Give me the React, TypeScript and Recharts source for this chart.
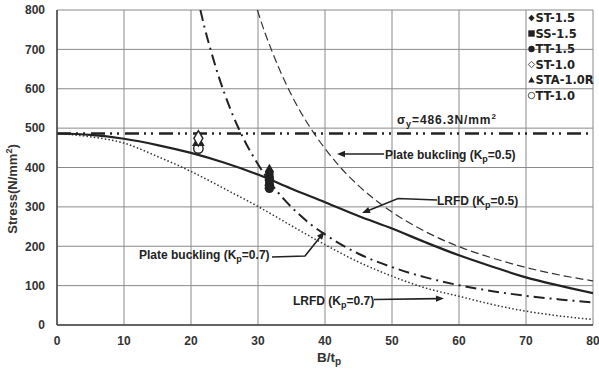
import React from 'react';
import { ComposedChart, Line, Scatter, XAxis, YAxis, ZAxis, CartesianGrid, Customized } from 'recharts';

const xTicks = [0, 10, 20, 30, 40, 50, 60, 70, 80];
const yTicks = [0, 100, 200, 300, 400, 500, 600, 700, 800];

// LRFD curves (solid: Kp=0.5, dotted: Kp=0.7)
const lrfdX = [0, 5, 10, 15, 20, 25, 30, 35, 40, 45, 50, 55, 60, 65, 70, 75, 80];
const lrfd05 = [486.3, 483, 473, 457, 437, 412, 382, 346, 312, 277, 245, 210, 177, 148, 121, 100, 81];
const lrfd07 = [486.3, 478, 462, 428, 390, 346, 301, 252, 204, 160, 124, 94, 73, 52, 35, 23, 14];

// Plate buckling curves
const pb07X = [21.4, 22, 23, 24, 25, 26, 28, 30, 32, 34, 36, 38, 40, 45, 50, 55, 60, 65, 70, 75, 80];
const pb07 = [800, 757, 695, 638, 588, 543, 468, 408, 358, 317, 283, 254, 230, 181, 147, 121, 101, 86, 74, 65, 57];
const pb05X = [29.9, 31, 32, 34, 36, 38, 40, 42, 45, 50, 55, 60, 65, 70, 75, 80];
const pb05 = [800, 744, 699, 619, 552, 496, 448, 406, 354, 287, 237, 199, 170, 146, 127, 112];

// Yield stress
const yieldX = [0, 80];
const yieldStress = 486.3;

// Test results
const st15 = [{ x: 31.7, y: 390 }, { x: 31.7, y: 376 }];
const ss15 = [{ x: 31.7, y: 381 }, { x: 31.7, y: 362 }];
const tt15 = [{ x: 31.7, y: 368 }, { x: 31.7, y: 355 }, { x: 31.7, y: 347 }];
const st10 = [{ x: 21.1, y: 474 }];
const sta10r = [{ x: 21.1, y: 464 }];
const tt10 = [{ x: 21.1, y: 448 }];

const legendLabels = ['ST-1.5', 'SS-1.5', 'TT-1.5', 'ST-1.0', 'STA-1.0R', 'TT-1.0'];

const zip = (xs: number[], ys: number[]) => xs.map((x, i) => ({ x, y: ys[i] }));
const lrfd05Data = zip(lrfdX, lrfd05);
const lrfd07Data = zip(lrfdX, lrfd07);
const pb07Data = zip(pb07X, pb07);
const pb05Data = zip(pb05X, pb05);
const yieldData = yieldX.map((x) => ({ x, y: yieldStress }));

const ARIAL = "'Liberation Sans', Arial, sans-serif";
const LEG = "'DejaVu Sans', sans-serif";
const INK = '#222';

function Arrow({ pts }: { pts: number[][] }) {
  const n = pts.length;
  const [tx, ty] = pts[n - 1];
  const [fx, fy] = pts[n - 2];
  const dx = tx - fx, dy = ty - fy;
  const len = Math.sqrt(dx * dx + dy * dy);
  const ux = dx / len, uy = dy / len;
  const L = 8, Wd = 3.2;
  const bx = tx - ux * L, by = ty - uy * L;
  const p1 = `${bx - uy * Wd},${by + ux * Wd}`;
  const p2 = `${bx + uy * Wd},${by - ux * Wd}`;
  const linePts = pts.slice(0, n - 1).concat([[bx + ux * 1, by + uy * 1]]);
  return (
    <g>
      <polyline points={linePts.map((p) => p.join(',')).join(' ')} fill="none" stroke={INK} strokeWidth={1.6} />
      <polygon points={`${tx},${ty} ${p1} ${p2}`} fill={INK} />
    </g>
  );
}

function LegendMarker({ i, cx, cy }: { i: number; cx: number; cy: number }) {
  const s = 3.2;
  switch (i) {
    case 0:
      return <polygon points={`${cx},${cy - s} ${cx + s},${cy} ${cx},${cy + s} ${cx - s},${cy}`} fill={INK} />;
    case 1:
      return <rect x={cx - s} y={cy - s} width={2 * s} height={2 * s} fill={INK} />;
    case 2:
      return <circle cx={cx} cy={cy} r={s} fill={INK} />;
    case 3:
      return <polygon points={`${cx},${cy - s} ${cx + s},${cy} ${cx},${cy + s} ${cx - s},${cy}`} fill="#fff" stroke={INK} strokeWidth={0.8} />;
    case 4:
      return <polygon points={`${cx},${cy - s} ${cx + s},${cy + s * 0.8} ${cx - s},${cy + s * 0.8}`} fill={INK} />;
    default:
      return <circle cx={cx} cy={cy} r={s} fill="#fff" stroke={INK} strokeWidth={0.8} />;
  }
}

function Overlay() {
  const t = { fontFamily: ARIAL, fontWeight: 700, fontSize: 12, fill: INK } as const;
  const rows = [18, 33.5, 49, 64.5, 80, 95.5];
  return (
    <g>
      {/* legend */}
      {legendLabels.map((lab, i) => (
        <g key={lab}>
          <LegendMarker i={i} cx={531.5} cy={rows[i]} />
          <text x={535.5} y={rows[i] + 4.2} fontFamily={LEG} fontWeight={700} fontSize={11.5} fill={INK}>
            {lab}
          </text>
        </g>
      ))}
      {/* sigma_y */}
      <text x={397} y={124} {...t} letterSpacing={0.9}>
        σ<tspan fontSize={9} dy={3}>y</tspan>
        <tspan dy={-3}>=486.3N/mm</tspan>
        <tspan fontSize={8} dy={-5}>2</tspan>
      </text>
      {/* Plate bukcling Kp=0.5 */}
      <text x={385} y={159} {...t}>
        Plate bukcling (K<tspan fontSize={9} dy={3}>p</tspan>
        <tspan dy={-3}>=0.5)</tspan>
      </text>
      <Arrow pts={[[384, 154], [337, 154]]} />
      {/* LRFD Kp=0.5 */}
      <text x={437} y={205} {...t}>
        LRFD (K<tspan fontSize={9} dy={3}>p</tspan>
        <tspan dy={-3}>=0.5)</tspan>
      </text>
      <Arrow pts={[[437, 200], [398, 198.5], [362, 213]]} />
      {/* Plate buckling Kp=0.7 */}
      <text x={139} y={259} {...t}>
        Plate buckling (K<tspan fontSize={9} dy={3}>p</tspan>
        <tspan dy={-3}>=0.7)</tspan>
      </text>
      <Arrow pts={[[272, 257], [305, 256], [324.5, 231.5]]} />
      {/* LRFD Kp=0.7 */}
      <text x={293} y={305} {...t}>
        LRFD (K<tspan fontSize={9} dy={3}>p</tspan>
        <tspan dy={-3}>=0.7)</tspan>
      </text>
      <Arrow pts={[[374, 299.5], [444, 298.5]]} />
      {/* axis titles */}
      <text x={317} y={362} fontFamily={ARIAL} fontWeight={700} fontSize={13.5} fill="#333">
        B/t<tspan fontSize={10} dy={3}>p</tspan>
      </text>
      <text
        x={0}
        y={0}
        transform="translate(17,189) rotate(-90)"
        textAnchor="middle"
        fontFamily={ARIAL}
        fontWeight={700}
        fontSize={13}
        fill="#333"
      >
        Stress(N/mm<tspan fontSize={9} dy={-5}>2</tspan>
        <tspan dy={5}>)</tspan>
      </text>
    </g>
  );
}

const tickStyle = { fontSize: 12, fontWeight: 700, fill: '#333', fontFamily: ARIAL };

export default function App() {
  return (
    <div style={{ position: 'absolute', left: 0, top: 0, width: 599, height: 369, background: '#fff' }}>
      <ComposedChart width={599} height={369} margin={{ top: 10, right: 6, bottom: 0, left: 0 }}>
        <CartesianGrid stroke="#8a8a8a" strokeWidth={1} />
        <XAxis
          type="number"
          dataKey="x"
          domain={[0, 80]}
          ticks={xTicks}
          allowDataOverflow
          height={44}
          tickLine={false}
          tickSize={6}
          tickMargin={5}
          tick={tickStyle}
          axisLine={{ stroke: '#444', strokeWidth: 1.5 }}
        />
        <YAxis
          type="number"
          dataKey="y"
          domain={[0, 800]}
          ticks={yTicks}
          allowDataOverflow
          width={57}
          tickLine={false}
          tickSize={6}
          tickMargin={6}
          tick={tickStyle}
          axisLine={{ stroke: '#444', strokeWidth: 1.5 }}
        />
        <ZAxis range={[70, 70]} />
        <Line data={yieldData} dataKey="y" type="linear" stroke={INK} strokeWidth={2.4} strokeDasharray="14 5 2 5 2 6" dot={false} isAnimationActive={false} />
        <Line data={pb05Data} dataKey="y" type="monotone" stroke="#333" strokeWidth={1.2} strokeDasharray="8 4" dot={false} isAnimationActive={false} />
        <Line data={pb07Data} dataKey="y" type="monotone" stroke={INK} strokeWidth={2} strokeDasharray="11 5 2 5" dot={false} isAnimationActive={false} />
        <Line data={lrfd07Data} dataKey="y" type="monotone" stroke="#333" strokeWidth={1.5} strokeDasharray="1.5 2.2" dot={false} isAnimationActive={false} />
        <Line data={lrfd05Data} dataKey="y" type="monotone" stroke={INK} strokeWidth={2.2} dot={false} isAnimationActive={false} />
        <Scatter data={st15} shape="diamond" fill={INK} isAnimationActive={false} />
        <Scatter data={ss15} shape="square" fill={INK} isAnimationActive={false} />
        <Scatter data={tt15} shape="circle" fill={INK} isAnimationActive={false} />
        <Scatter data={tt10} shape="circle" fill="#fff" stroke={INK} strokeWidth={1.4} isAnimationActive={false} />
        <Scatter data={sta10r} shape="triangle" fill={INK} isAnimationActive={false} />
        <Scatter data={st10} shape="diamond" fill="#fff" stroke={INK} strokeWidth={1.4} isAnimationActive={false} />
        <Customized component={<Overlay />} />
      </ComposedChart>
    </div>
  );
}
